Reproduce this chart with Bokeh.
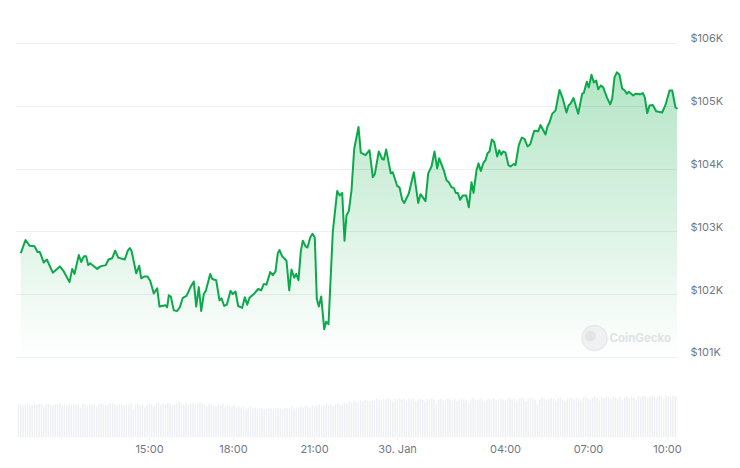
from bokeh.plotting import figure
from bokeh.embed import file_html
from bokeh.resources import INLINE
from bokeh.models import Range1d, LinearAxis, FixedTicker, Label, Grid

# position along the (ordinal) time axis, and BTC price in USD
position = [0.3,5,9,14,17,19.3,23.3,26.3,32.3,39.3,43.3,49,51.7,54,58.3,60.7,63.3,65.7,67.7,69.7,76.7,80,85.3,88,91.7,94.7,97.7,104.3,107.3,109.3,
 111,115.7,118.7,120.7,124,127,129.7,133.3,136.7,139,145,146.7,148.3,150.3,153.3,156.7,159.3,162.3,166,170,173.3,175.7,178.3,180.7,183.3,185.3,189.7,191.7,195.7,199,201,203.7,206.3,210,212.3,215,217.7,
 221.7,224.3,226.7,229,233.3,237.7,240.7,243.3,246,249.7,252.3,255,257.3,259,261.7,266,268.7,271,273.7,275.7,278,280.3,282.3,285,287,289.7,292,294.3,296.3,298.3,300.7,303.7,305.7,308,
 312.3,316.7,319.3,321.7,324,326,328.3,331,333.7,338,340.3,345,349,352.3,354.3,358.3,361.7,363.3,365.7,370.3,372.3,376.7,379,381.7,383.7,388.3,393.3,397.7,400,405,407.7,411,414,416.7,418.7,423.3,426,428.3,431,433.3,435.3,437.3,439.7,
 442.3,445.7,448.3,451,453,456,458,460.3,463,465,467,469,471.3,473.7,476.7,478.7,480.7,482.7,485,488,490,493.3,495,498.3,501.3,504,507,509.7,513.7,517.7,520,525,527,529,531.7,535,539,542.3,
 546,548,550,553,557.7,561.7,563.3,566.3,568.3,571,573.3,575.7,577.7,580.3,582.7,586.7,589.7,591.7,594,596.3,599,601.7,604.3,606.3,608.3,612.7,615,619.7,622.3,624.3,626.7,629,632.3,635.7,641.7,645,649,651.7,655,657]
price = [102660,102870,102780,102770,102680,102680,102510,102560,102350,102450,102370,102200,102410,102330,102630,102520,102610,102610,102470,102500,102410,102450,102470,102560,102580,102700,102590,102560,102700,102740,
 102700,102340,102460,102260,102290,102290,102220,102020,102100,101810,101830,101800,101990,101970,101750,101740,101800,101950,101980,102120,102210,101810,102120,101740,102010,102060,102330,102250,102230,101910,101940,101820,101840,102060,102010,102050,101820,
 101790,101960,101840,101950,102010,102090,102070,102170,102160,102360,102310,102370,102660,102710,102610,102540,102070,102400,102270,102330,102230,102690,102860,102770,102750,102910,102970,102910,101930,101810,101970,101450,101570,101530,
 103000,103650,103580,103620,102860,103260,103330,103660,104320,104670,104260,104220,104300,103870,103920,104280,104160,104150,104310,103930,103950,103730,103710,103510,103460,103610,103950,103460,103600,103490,103930,104040,104280,104010,104170,103980,103820,103790,103710,103700,103620,103620,103510,
 103580,103580,103390,103790,103620,103980,104090,103970,104100,104140,104250,104280,104470,104430,104200,104300,104230,104280,104260,104060,104040,104080,104060,104380,104500,104480,104360,104390,104610,104600,104700,104550,104680,104740,104880,104930,105260,105120,
 104900,105010,105040,105130,104880,105200,105210,105390,105300,105500,105380,105410,105270,105330,105300,105130,105030,105120,105460,105540,105500,105280,105250,105200,105230,105170,105200,105190,105210,105140,104890,105010,105020,104920,104900,105020,105250,105250,104980,104960]
# traded volume, USD bn, one bar per observation
volume = [33,33,32,33,34,33,32,33,33,34,33,31,33,34,33,32,33,33,34,32,33,32,34,33,33,34,33,30,34,33,32,33,34,33,31,33,34,33,32,33,34,35,33,32,34,33,32,33,
 33,34,28,33,34,32,33,30,33,34,33,31,34,35,33,34,33,35,34,32,33,35,36,34,33,35,33,34,35,33,34,35,34,33,31,34,33,32,31,33,32,34,31,32,
 32,31,32,30,31,30,31,29,30,31,29,30,28,29,30,28,29,30,29,28,29,30,29,28,30,29,30,31,29,30,
 30,31,30,32,31,30,32,31,32,33,31,32,34,32,33,31,33,34,33,32,
 35,34,36,35,37,36,35,37,36,38,37,36,38,37,39,38,37,39,38,39,38,37,39,38,
 39,38,39,37,39,38,39,36,38,39,38,37,39,38,39,38,33,38,39,37,38,39,38,37,39,36,38,39,38,37,35,38,39,38,37,39,38,36,38,39,38,39,37,38,
 39,38,37,39,40,38,39,37,39,40,39,36,39,40,39,38,33,38,40,39,38,39,40,39,37,39,40,38,36,39,40,39,38,40,39,37,40,41,39,38,40,41,39,37,40,39,41,40,38,41,40,39,41,38,40,41,39,41,40,38,41,40,42,41,39,41,42,41,40,42,41,39,42,41,40,42,41,42]
price_ticks = [101000,102000,103000,104000,105000,106000]
price_labels = ["$101K","$102K","$103K","$104K","$105K","$106K"]
time_ticks = [129,213,294,377,485,568,647]
time_labels = ["15:00","18:00","21:00","30. Jan","04:00","07:00","10:00"]

FONT = "Inter"
GREY = "#6f7887"
GREEN = (0, 168, 62)
P_LOW, P_HIGH = 99726, 106524
vol_x = [-2 + i * (659 / (len(volume) - 1)) for i in range(len(volume))]

p = figure(width=732, height=460, output_backend="svg", toolbar_location=None,
           x_range=Range1d(-5, 657), y_range=Range1d(P_LOW, P_HIGH),
           min_border_left=15, min_border_right=55, min_border_top=10, min_border_bottom=23,
           frame_width=662, frame_height=427, outline_line_color=None, x_axis_location=None, y_axis_location=None)
p.background_fill_color = "white"
p.xgrid.visible = False
p.ygrid.visible = False
p.extra_y_ranges = {"volume": Range1d(0, 427), "labels": Range1d(P_LOW - 80, P_HIGH - 80)}

# vertical green gradient fading to white at the $101K line;
# bands are painted bottom-up, each overlapping the next, so no seams show
top_price, base_price, n = 105580, 101000, 72
for i in range(n):
    t = (i + 0.5) / n
    a = 0.30 * t
    col = "#%02x%02x%02x" % tuple(round(255 * (1 - a) + c * a) for c in GREEN)
    p.quad(left=0.3, right=656.5, bottom=base_price + (top_price - base_price) * i / n,
           top=base_price + (top_price - base_price) * (i + 1) / n + 60, fill_color=col, line_color=None)
# white mask above the line, running a little past both ends
mask_x = [position[0] - 3] + position + [position[-1] + 3]
mask_y = [price[0]] + price + [price[-1]]
p.varea(x=mask_x, y1=mask_y, y2=[P_HIGH] * len(mask_y), fill_color="white")

p.vbar(x=vol_x, top=volume, bottom=0, width=1.5, fill_color="#eef0f4", line_color=None, y_range_name="volume")

# watermark
p.scatter([574], [101310], size=25, marker="circle", fill_color="#f0f1f2", line_color="#e6e8ea", line_width=1.5)
p.scatter([570], [101340], size=11, marker="circle", fill_color="#e2e4e6", line_color=None)
p.add_layout(Label(x=589, y=101310, text="CoinGecko", text_font=FONT, text_font_size="11.5px", text_font_style="bold",
                   text_color="#dfe2e5", text_baseline="middle", text_align="left"))

p.line(position, price, line_color="#0ca94b", line_width=2, line_join="round", level="annotation")

# y axis and grid
grid = Grid(dimension=1, ticker=FixedTicker(ticks=price_ticks), grid_line_color="#1f2d3d", grid_line_alpha=0.07, grid_line_width=1, level="guide")
p.add_layout(grid)

yax = LinearAxis(y_range_name="labels", ticker=FixedTicker(ticks=price_ticks),
                 major_label_overrides=dict(zip(price_ticks, price_labels)))
yax.axis_line_color = None
yax.major_tick_line_color = None
yax.minor_tick_line_color = None
yax.major_label_standoff = 7
yax.major_label_text_font = FONT
yax.major_label_text_font_size = "11px"
yax.major_label_text_color = GREY
p.add_layout(yax, "right")

xax = LinearAxis(ticker=FixedTicker(ticks=time_ticks), major_label_overrides=dict(zip(time_ticks, time_labels)))
xax.axis_line_color = None
xax.major_tick_line_color = "#f1f3f5"
xax.major_tick_in = 0
xax.major_tick_out = 3
xax.minor_tick_line_color = None
xax.major_label_standoff = 1
xax.major_label_text_font = FONT
xax.major_label_text_font_size = "11px"
xax.major_label_text_color = GREY
p.add_layout(xax, "below")

open("out.html", "w").write(file_html(p, INLINE))
